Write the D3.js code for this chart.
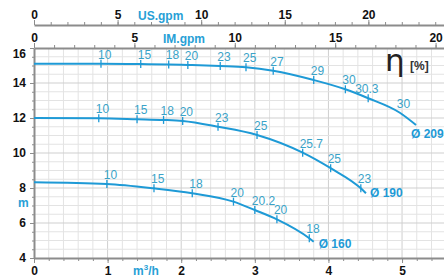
<!DOCTYPE html>
<html>
<head>
<meta charset="utf-8">
<script src="https://cdn.jsdelivr.net/npm/d3@7"></script>
<style>
  body { margin: 0; background: #fff; }
  svg { display: block; font-family: "Liberation Sans", Arial, sans-serif; }
  .axis text { font-weight: bold; font-size: 12px; fill: #111; }
  .axis path, .axis line { stroke: #8c8c8c; }
</style>
</head>
<body>
<svg width="444" height="277"></svg>
<script>
// pump curves: flow in m3/h, head in m, efficiency marks in %
var q209 = [0, 0.91, 1.45, 1.83, 2.09, 2.53, 2.88, 3.25, 3.80, 4.23, 4.54, 4.97, 5.19];
var h209 = [15.1, 15.1, 15.08, 15.06, 15.03, 14.97, 14.9, 14.7, 14.17, 13.64, 13.13, 12.3, 11.6];
var eff209 = [null, "10", "15", "18", "20", "23", "25", "27", "29", "30", "30.3", "30", null];

var q190 = [0, 0.88, 1.40, 1.76, 2.02, 2.50, 3.03, 3.65, 4.03, 4.44, 4.51];
var h190 = [12.0, 11.98, 11.93, 11.89, 11.83, 11.5, 11.03, 10.02, 9.13, 7.98, 7.7];
var eff190 = [null, "10", "15", "18", "20", "23", "25", "25.7", "25", "23", null];

var q160 = [0, 0.99, 1.63, 2.15, 2.71, 3.00, 3.30, 3.74, 3.80];
var h160 = [8.33, 8.23, 7.98, 7.7, 7.22, 6.74, 6.21, 5.13, 4.93];
var eff160 = [null, "10", "15", "18", "20", "20.2", "20", "18", null];

var diameters = ["Ø 209", "Ø 190", "Ø 160"];

var xTicks = [0, 1, 2, 3, 4, 5];
var yTicks = [4, 6, 8, 10, 12, 14, 16];
var usTicks = [0, 5, 10, 15, 20];
var imTicks = [0, 5, 10, 15, 20];

var IM_PER_M3H = 3.666, US_PER_M3H = 4.403;

var svg = d3.select("svg"),
    pLeft = 34, pRight = 444, pTop = 48, pBottom = 258;

var x = d3.scaleLinear().domain([0, 5.57]).range([pLeft, pRight]);
var y = d3.scaleLinear().domain([4, 16]).range([pBottom, pTop]);
var xIM = d3.scaleLinear().domain([0, 5.57 * IM_PER_M3H]).range([pLeft, pRight]);
var xUS = d3.scaleLinear().domain([0, 5.57 * US_PER_M3H]).range([pLeft, pRight]);

var blue = "#1e9ad6", labelBlue = "#3aa3c8";
var fmt = d3.format("d");

// grid
var grid = svg.append("g");
grid.selectAll("line.v")
    .data(d3.range(0.2, 5.6, 0.2))
  .enter().append("line")
    .attr("x1", function(d) { return x(d); })
    .attr("x2", function(d) { return x(d); })
    .attr("y1", pTop).attr("y2", pBottom)
    .attr("stroke", function(d) { return Math.abs(d - Math.round(d)) < 0.01 ? "#cfcfcf" : "#e3e3e3"; })
    .attr("stroke-width", 1);
grid.selectAll("line.h")
    .data(d3.range(4.5, 16, 0.5))
  .enter().append("line")
    .attr("x1", pLeft).attr("x2", pRight)
    .attr("y1", function(d) { return y(d); })
    .attr("y2", function(d) { return y(d); })
    .attr("stroke", function(d) { return d % 2 === 0 ? "#cfcfcf" : "#e3e3e3"; })
    .attr("stroke-width", 1);

// bottom axis
svg.append("g").attr("class", "axis")
    .attr("transform", "translate(0," + pBottom + ")")
    .call(d3.axisBottom(x).tickValues(d3.range(0, 5.6, 0.2)).tickSize(3).tickSizeOuter(0).tickFormat(""))
    .call(function(g) { g.select(".domain").attr("stroke-width", 2); });
svg.append("g").attr("class", "axis")
    .attr("transform", "translate(0," + pBottom + ")")
    .call(d3.axisBottom(x).tickValues(xTicks).tickSize(5).tickPadding(3).tickSizeOuter(0).tickFormat(fmt))
    .call(function(g) { g.select(".domain").remove(); });

// left axis
svg.append("g").attr("class", "axis")
    .attr("transform", "translate(" + pLeft + ",0)")
    .call(d3.axisLeft(y).tickValues(d3.range(4, 16.1, 0.5)).tickSize(2).tickSizeOuter(0).tickFormat(""))
    .call(function(g) { g.select(".domain").attr("stroke-width", 2); });
svg.append("g").attr("class", "axis")
    .attr("transform", "translate(" + pLeft + ",0)")
    .call(d3.axisLeft(y).tickValues(yTicks).tickSize(4).tickPadding(4).tickSizeOuter(0).tickFormat(fmt))
    .call(function(g) {
      g.select(".domain").remove();
      g.selectAll(".tick").filter(function(d) { return d === 16; })
        .select("text").attr("dy", "0.75em");
    });

// IM.gpm axis (top of plot)
svg.append("g").attr("class", "axis")
    .attr("transform", "translate(0," + pTop + ")")
    .call(d3.axisTop(xIM).tickValues(d3.range(0, 21, 1)).tickSize(3).tickSizeOuter(0).tickFormat(""))
    .call(function(g) { g.select(".domain").attr("stroke-width", 2); });
svg.append("g").attr("class", "axis")
    .attr("transform", "translate(0," + pTop + ")")
    .call(d3.axisTop(xIM).tickValues(imTicks).tickSize(5).tickPadding(1).tickSizeOuter(0).tickFormat(fmt))
    .call(function(g) { g.select(".domain").remove(); });

// US.gpm axis
svg.append("g").attr("class", "axis")
    .attr("transform", "translate(0,25)")
    .call(d3.axisTop(xUS).tickValues(d3.range(0, 25, 1)).tickSize(3).tickSizeOuter(0).tickFormat(""))
    .call(function(g) { g.select(".domain").attr("stroke-width", 2); });
svg.append("g").attr("class", "axis")
    .attr("transform", "translate(0,25)")
    .call(d3.axisTop(xUS).tickValues(usTicks).tickSize(5).tickPadding(1).tickSizeOuter(0).tickFormat(fmt))
    .call(function(g) { g.select(".domain").remove(); });

// unit labels
function unitLabel(px, py, txt) {
  return svg.append("text").attr("x", px).attr("y", py)
    .attr("fill", "#27a0d6").attr("font-weight", "bold").attr("font-size", 12)
    .text(txt);
}
unitLabel(138, 20, "US.gpm");
unitLabel(163, 43, "IM.gpm");
unitLabel(18, 207, "m");
var m3 = unitLabel(133, 275, "m");
m3.append("tspan").attr("font-size", 8).attr("dy", -5).text("3");
m3.append("tspan").attr("dy", 5).text("/h");

// eta
svg.append("text").attr("x", 385).attr("y", 71)
    .attr("font-family", "DejaVu Sans, sans-serif")
    .attr("font-size", 31).attr("fill", "#222").text("η");
svg.append("text").attr("x", 410).attr("y", 70)
    .attr("font-size", 12).attr("font-weight", "bold").attr("fill", "#333").text("[%]");

// curves
var curves = [
  {q: q209, h: h209, eff: eff209, name: diameters[0], noTick: [11], ldx: -5, ldy: 13},
  {q: q190, h: h190, eff: eff190, name: diameters[1], noTick: [], ldx: 4, ldy: 4},
  {q: q160, h: h160, eff: eff160, name: diameters[2], noTick: [], ldx: 5, ldy: 6}
];

var line = d3.line()
    .x(function(d) { return x(d[0]); })
    .y(function(d) { return y(d[1]); })
    .curve(d3.curveMonotoneX);

curves.forEach(function(c, ci) {
  var pts = c.q.map(function(q, i) { return [q, c.h[i], c.eff[i], i]; });
  var g = svg.append("g");

  g.append("path")
      .datum(pts)
      .attr("fill", "none")
      .attr("stroke", blue)
      .attr("stroke-width", 2)
      .attr("d", line);

  var marks = pts.filter(function(d) { return d[2] !== null; });

  g.selectAll("line.tick")
      .data(marks.filter(function(d) { return c.noTick.indexOf(d[3]) < 0; }))
    .enter().append("line")
      .attr("x1", function(d) { return x(d[0]); })
      .attr("x2", function(d) { return x(d[0]); })
      .attr("y1", function(d) { return y(d[1]) - 4; })
      .attr("y2", function(d) { return y(d[1]) + 4; })
      .attr("stroke", blue)
      .attr("stroke-width", 1.3);

  g.selectAll("text.eff")
      .data(marks)
    .enter().append("text")
      .attr("x", function(d) {
        var off = (ci === 0 && d[2] === "30.3") ? -13 : -3;
        return x(d[0]) + off;
      })
      .attr("y", function(d) { return y(d[1]) - 5; })
      .attr("font-size", 12)
      .attr("fill", labelBlue)
      .text(function(d) { return d[2]; });

  var end = pts[pts.length - 1];
  g.append("text")
      .attr("x", x(end[0]) + c.ldx)
      .attr("y", y(end[1]) + c.ldy)
      .attr("font-size", 12)
      .attr("font-weight", "bold")
      .attr("fill", blue)
      .text(c.name);
});
</script>
</body>
</html>
